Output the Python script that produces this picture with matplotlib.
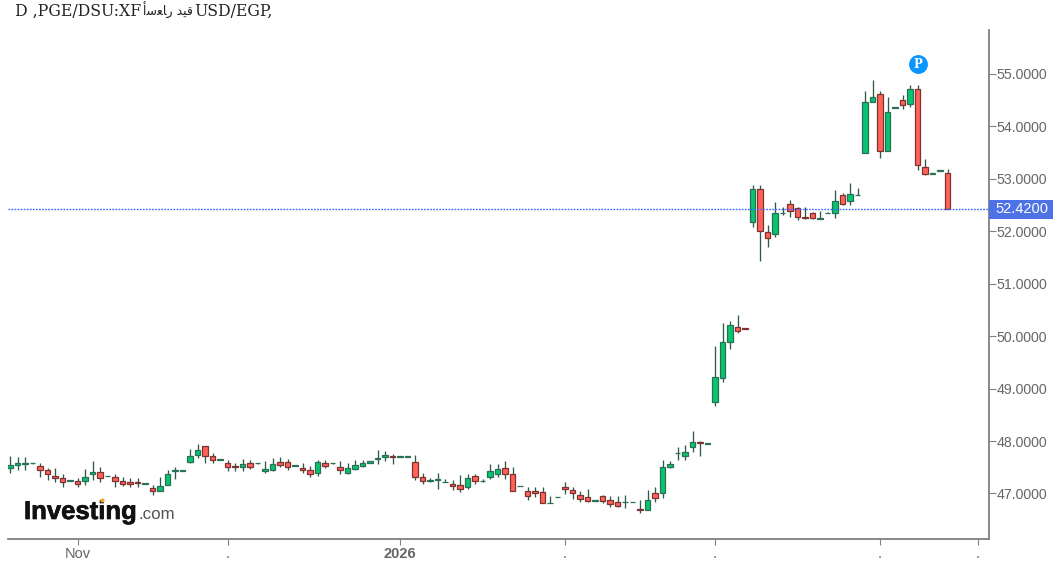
import numpy as np
import matplotlib
matplotlib.use('Agg')
import matplotlib.pyplot as plt
from matplotlib.lines import Line2D
from matplotlib.patches import Rectangle
from matplotlib.patheffects import withStroke
from matplotlib.transforms import blended_transform_factory

opens = [47.48,47.55,47.56,47.58,47.53,47.44,47.34,47.29,47.24,47.24,47.24,47.37,47.41,47.33,47.31,47.24,47.22,47.22,47.19,47.10,47.05,47.17,47.42,47.43,47.60,47.73,47.91,47.72,47.64,47.58,
         47.52,47.50,47.58,47.58,47.43,47.45,47.60,47.60,47.52,47.49,47.44,47.40,47.58,47.58,47.50,47.40,47.47,47.53,47.59,47.65,47.70,47.71,47.70,47.70,47.60,47.32,47.24,47.25,47.21,47.19,
         47.155,47.12,47.34,47.23,47.31,47.38,47.48,47.37,47.14,47.05,47.05,47.03,46.81,46.93,47.12,47.07,46.98,46.93,46.86,46.96,46.88,46.84,46.83,46.83,46.70,46.69,47.00,47.00,47.50,47.77,
         47.72,47.88,47.98,47.95,48.74,49.21,49.89,50.18,50.15,52.17,52.80,51.98,51.95,52.34,52.53,52.44,52.27,52.34,52.24,52.34,52.34,52.70,52.58,52.69,53.49,54.46,54.61,53.53,54.36,54.50,
         54.43,54.71,53.22,53.10,53.15,53.11]
highs = [47.72,47.70,47.69,47.59,47.58,47.48,47.49,47.38,47.26,47.30,47.46,47.61,47.50,47.34,47.37,47.32,47.30,47.30,47.20,47.17,47.32,47.45,47.51,47.44,47.84,47.94,47.91,47.77,47.65,47.63,
         47.59,47.65,47.64,47.59,47.62,47.68,47.69,47.66,47.54,47.59,47.52,47.64,47.64,47.59,47.61,47.59,47.64,47.64,47.61,47.83,47.81,47.75,47.71,47.71,47.73,47.40,47.30,47.40,47.27,47.26,
         47.35,47.37,47.37,47.28,47.56,47.56,47.61,47.51,47.15,47.13,47.13,47.12,46.95,46.94,47.21,47.12,47.05,47.08,46.87,46.98,46.95,46.95,46.97,46.84,46.875,47.06,47.12,47.64,47.62,47.88,
         47.92,48.19,48.00,47.96,49.81,50.26,50.29,50.40,50.16,52.88,52.88,52.12,52.56,52.47,52.60,52.46,52.46,52.36,52.39,52.36,52.79,52.74,52.93,52.83,54.67,54.88,54.67,54.57,54.38,54.60,
         54.79,54.79,53.38,53.11,53.16,53.19]
lows = [47.40,47.45,47.45,47.57,47.32,47.26,47.21,47.13,47.23,47.13,47.16,47.26,47.21,47.33,47.13,47.14,47.13,47.12,47.19,46.97,47.05,47.17,47.27,47.43,47.59,47.67,47.58,47.58,47.64,47.43,
        47.43,47.43,47.47,47.57,47.40,47.42,47.51,47.45,47.52,47.40,47.32,47.33,47.48,47.57,47.38,47.37,47.45,47.50,47.59,47.57,47.61,47.57,47.70,47.70,47.26,47.18,47.225,47.09,47.21,47.07,
        47.03,47.08,47.19,47.225,47.28,47.32,47.28,47.05,47.14,46.875,46.94,46.81,46.81,46.93,46.99,46.89,46.84,46.84,46.86,46.82,46.75,46.75,46.73,46.83,46.63,46.685,46.84,46.92,47.49,47.64,
        47.64,47.80,47.72,47.95,48.66,49.13,49.76,50.07,50.14,52.09,51.44,51.71,51.90,52.32,52.28,52.21,52.24,52.23,52.24,52.34,52.26,52.50,52.50,52.69,53.49,54.46,53.39,53.53,54.36,54.33,
        54.37,53.17,53.07,53.10,53.15,52.42]
closes = [47.54,47.59,47.59,47.59,47.44,47.37,47.29,47.21,47.25,47.19,47.31,47.41,47.29,47.34,47.24,47.19,47.19,47.20,47.20,47.05,47.14,47.38,47.44,47.44,47.72,47.82,47.72,47.63,47.65,47.50,
          47.50,47.56,47.50,47.59,47.46,47.56,47.55,47.50,47.54,47.44,47.38,47.60,47.53,47.59,47.44,47.48,47.54,47.58,47.61,47.68,47.73,47.69,47.71,47.71,47.31,47.24,47.25,47.27,47.225,47.14,
          47.09,47.29,47.24,47.24,47.42,47.46,47.38,47.05,47.15,46.95,47.00,46.81,46.82,46.94,47.08,47.00,46.89,46.86,46.87,46.86,46.79,46.77,46.84,46.84,46.685,46.88,46.91,47.51,47.56,47.78,
          47.79,47.98,47.96,47.96,49.23,49.89,50.21,50.10,50.14,52.80,52.00,51.88,52.34,52.35,52.39,52.27,52.25,52.25,52.25,52.35,52.58,52.53,52.705,52.70,54.47,54.56,53.53,54.28,54.37,54.41,
          54.71,53.27,53.10,53.11,53.16,52.42]

last_price = 52.42
y_ticks = [47, 48, 49, 50, 51, 52, 53, 54, 55]
x_ticks = [9, 29, 52, 74, 94, 116, 129]
x_labels = ['Nov', '.', '2026', '.', '.', '.', '.']
title_left = 'D ,PGE/DSU:XF'
title_arabic = '\ufe83\ufeb3\ufecc\ufe8e\ufead \ufeaa\ufef4\ufed7'
title_right = 'USD/EGP,'

W, H = 1059, 568
GREY = '#666666'

plt.rcParams['font.family'] = ['Liberation Sans', 'DejaVu Sans']

fig = plt.figure(figsize=(W / 100, H / 100), dpi=100)
ax = fig.add_axes([8 / W, 1 - 539 / H, 981 / W, 509 / H])

opens, highs, lows, closes = map(np.array, (opens, highs, lows, closes))
xs = np.arange(len(opens))
up = closes >= opens

ax.vlines(xs, lows, highs, color='#2c5c48', lw=0.95, zorder=2)
ax.bar(xs[up], (closes - opens)[up], bottom=opens[up], width=0.74,
       color='#07c46f', edgecolor='#2a6f56', lw=0.9, zorder=3)
ax.bar(xs[~up], (opens - closes)[~up], bottom=closes[~up], width=0.74,
       color='#ff6359', edgecolor='#7f3030', lw=0.9, zorder=3)

ax.set_xlim(-0.267, 130.53)
ax.set_ylim(46.132, 55.839)

ax.axhline(last_price, color='#3366ff', lw=1.0, ls=(0, (1.2, 1.0)), zorder=4)

for s in ['top', 'left']:
    ax.spines[s].set_visible(False)
for s in ['right', 'bottom']:
    ax.spines[s].set_color('#808080')
    ax.spines[s].set_linewidth(1.3)

ax.yaxis.tick_right()
ax.set_yticks(y_ticks)
ax.set_yticklabels(['%.4f' % v for v in y_ticks])
ax.tick_params(axis='y', length=5, width=0.8, color='#808080', labelcolor=GREY, labelsize=10.2, pad=0.5)

ax.set_xticks(x_ticks)
ax.set_xticklabels(x_labels)
ax.tick_params(axis='x', length=4, width=0.8, color='#808080', labelcolor=GREY, labelsize=10.5, pad=10)
for t in ax.get_xticklabels():
    t.set_verticalalignment('baseline')
ax.get_xticklabels()[2].set_fontweight('bold')

# price flag on the right axis
trans = blended_transform_factory(ax.transAxes, ax.transData)
ax.add_patch(Rectangle((1.0, last_price - 0.18), 64 / 981, 0.36, transform=trans,
                       facecolor='#4c72e6', edgecolor='none', clip_on=False, zorder=5))
ax.text(1 + 33 / 981, last_price, '%.4f' % last_price, transform=trans, color='white',
        fontsize=10.5, ha='center', va='center', zorder=6)

# P marker
ax.plot([121], [55.19], 'o', ms=13.6, color='#0a95ff', mec='none', zorder=6, clip_on=False)
ax.text(121.05, 55.19, 'P', color='white', fontsize=8.5, fontweight='bold',
        family='DejaVu Serif', ha='center', va='center', zorder=7)

# title, the three runs sit side by side like in the original
title_y = 1 - 16 / H
fig.text(15 / W, title_y, title_left, family='DejaVu Serif', fontsize=11.3, color='#222222', va='baseline')
fig.text(143 / W, title_y, title_arabic, family='DejaVu Sans', fontsize=9, color='#222222', va='baseline')
fig.text(194 / W, title_y, title_right, family='DejaVu Serif', fontsize=11.3, color='#222222', va='baseline')

# logo
logo = fig.text(24 / W, 1 - 519 / H, 'Investing', fontsize=18.5, fontweight='bold', color='#111111',
                ha='left', va='baseline')
logo.set_path_effects([withStroke(linewidth=0.5, foreground='#111111')])
fig.text(138 / W, 1 - 519 / H, '.com', fontsize=12.2, color='#555555', ha='left', va='baseline')
fig.add_artist(Line2D([101.8 / W], [1 - 499.5 / H], marker='o', ms=3, color='#f5a623', mec='none', zorder=5))

fig.savefig('out.png', dpi=100)
